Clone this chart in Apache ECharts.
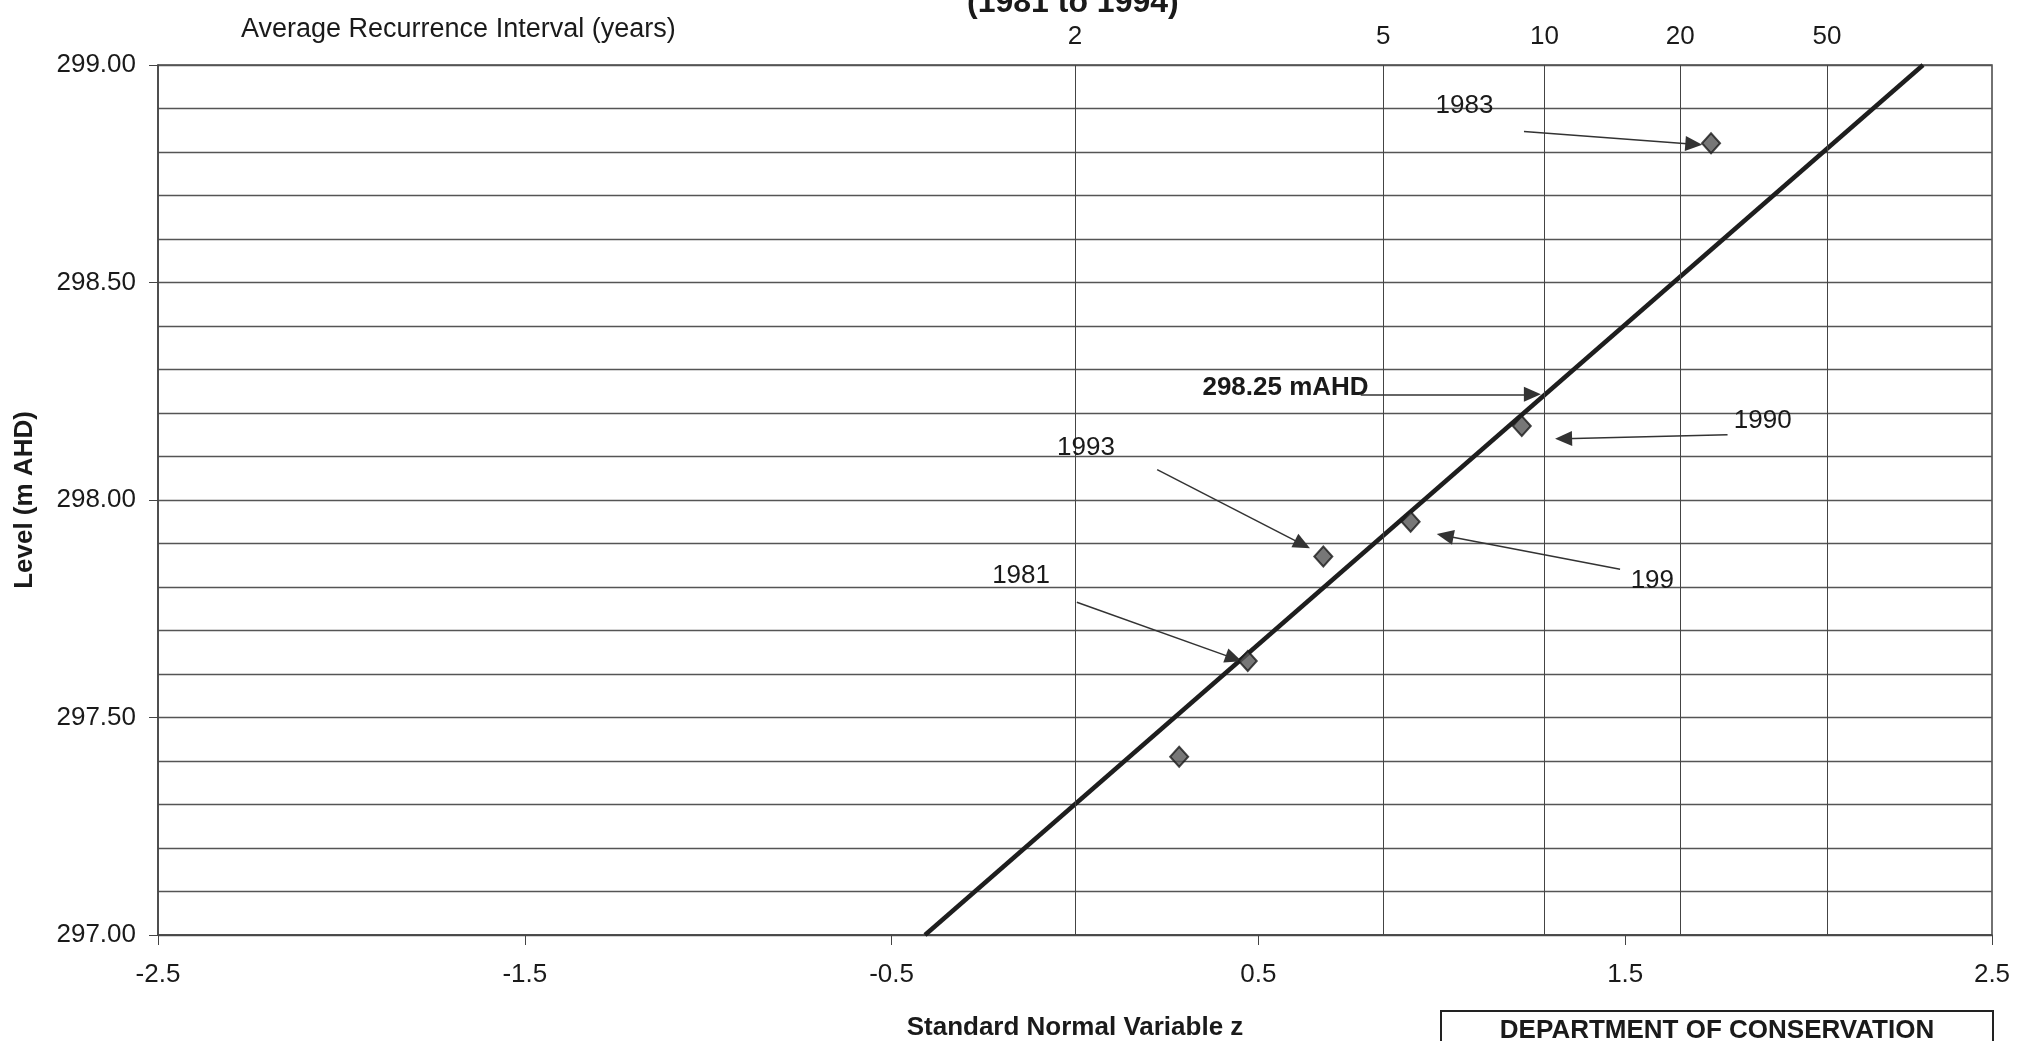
<!DOCTYPE html>
<html>
<head>
<meta charset="utf-8">
<title>Level frequency plot</title>
<script src="https://cdn.jsdelivr.net/npm/echarts@6/dist/echarts.min.js"></script>
<style>
  html, body { margin: 0; padding: 0; background: #fff; }
  #chart { width: 2032px; height: 1041px; }
</style>
</head>
<body>
<div id="chart"></div>
<script>
// bottom axis ticks (standard normal variable z)
var zTicks = [-2.5, -1.5, -0.5, 0.5, 1.5, 2.5];
// recurrence interval grid lines: label and z position
var ariLabels = ['2', '5', '10', '20', '50'];
var ariZ = [0, 0.842, 1.282, 1.645, 2.054];

// observed annual maxima (z, level)
var pointZ = [0.284, 0.471, 0.677, 0.915, 1.218, 1.734];
var pointLevel = [297.41, 297.63, 297.87, 297.95, 298.17, 298.82];

// fitted line end points
var fitZ = [-0.409, 2.312];
var fitLevel = [297.0, 299.0];

// annotations: text, text position, arrow start / end
var noteText = ['1983', '298.25 mAHD', '1990', '1993', '199', '1981'];
var noteZ = [1.062, 0.574, 1.875, 0.030, 1.574, -0.147];
var noteLevel = [298.906, 298.257, 298.183, 298.120, 297.815, 297.826];
var arrowFrom = [[1.224, 298.847], [0.779, 298.243], [1.779, 298.150], [0.224, 298.070], [1.486, 297.841], [0.005, 297.765]];
var arrowTo = [[1.687, 298.818], [1.247, 298.243], [1.332, 298.141], [0.620, 297.898], [1.009, 297.918], [0.433, 297.636]];

var chart = echarts.init(document.getElementById('chart'));

var FONT = '"Liberation Sans", Arial, sans-serif';
var INK = '#1a1a1a';

var option = {
    animation: false,
    backgroundColor: '#fff',
    textStyle: { fontFamily: FONT, color: INK },
    title: [{
        text: '(1981 to 1994)',
        left: 962,
        top: -18,
        textStyle: { fontFamily: FONT, fontSize: 32, fontWeight: 'bold', color: INK }
    }, {
        text: 'Average Recurrence Interval (years)',
        left: 236,
        top: 11,
        textStyle: { fontFamily: FONT, fontSize: 27, fontWeight: 'normal', color: INK }
    }],
    grid: {
        left: 158,
        right: 40,
        top: 65,
        bottom: 106,
        outerBoundsMode: 'none',
        containLabel: false,
        show: true,
        borderColor: '#444',
        borderWidth: 1.5,
        backgroundColor: 'transparent'
    },
    xAxis: {
        type: 'value',
        min: -2.5,
        max: 2.5,
        name: 'Standard Normal Variable z',
        nameLocation: 'middle',
        nameGap: 80,
        nameTextStyle: { fontFamily: FONT, fontSize: 26, fontWeight: 'bold', color: INK },
        axisLine: { show: true, onZero: false, lineStyle: { color: '#444', width: 1.5 } },
        axisTick: { show: true, length: 10, customValues: zTicks, lineStyle: { color: '#444' } },
        axisLabel: {
            customValues: zTicks,
            margin: 27,
            fontFamily: FONT,
            fontSize: 26,
            color: INK,
            formatter: function (v) { return String(v); }
        },
        splitLine: { show: false }
    },
    yAxis: [{
        type: 'value',
        min: 297,
        max: 299,
        interval: 0.1,
        axisLine: { show: false },
        axisTick: { show: false },
        axisLabel: { show: false },
        splitLine: { show: true, lineStyle: { color: '#555', width: 1.4 } }
    }, {
        type: 'value',
        position: 'left',
        min: 297,
        max: 299,
        interval: 0.5,
        name: 'Level (m AHD)',
        nameLocation: 'middle',
        nameGap: 120,
        nameTextStyle: { fontFamily: FONT, fontSize: 26, fontWeight: 'bold', color: INK },
        axisLine: { show: true, lineStyle: { color: '#444', width: 1.5 } },
        axisTick: { show: true, length: 9, lineStyle: { color: '#444' } },
        axisLabel: {
            margin: 22,
            fontFamily: FONT,
            fontSize: 26,
            color: INK,
            formatter: function (v) { return v.toFixed(2); }
        },
        splitLine: { show: false }
    }],
    series: [{
        // recurrence interval grid lines with their labels on top
        type: 'line',
        data: [],
        silent: true,
        markLine: {
            silent: true,
            symbol: ['none', 'none'],
            lineStyle: { color: '#444', width: 1, type: 'solid' },
            label: {
                show: true,
                position: 'end',
                distance: 15,
                fontFamily: FONT,
                fontSize: 26,
                color: INK,
                formatter: function (p) { return p.name; }
            },
            data: ariZ.map(function (z, i) { return { xAxis: z, name: ariLabels[i] }; })
        }
    }, {
        name: 'Fitted',
        type: 'line',
        data: fitZ.map(function (z, i) { return [z, fitLevel[i]]; }),
        showSymbol: false,
        lineStyle: { color: '#1e1e1e', width: 4.5 },
        z: 4
    }, {
        name: 'Observed',
        type: 'scatter',
        data: pointZ.map(function (z, i) { return [z, pointLevel[i]]; }),
        symbol: 'diamond',
        symbolSize: [18, 20],
        itemStyle: { color: '#555', borderColor: '#1a1a1a', borderWidth: 2 },
        z: 5,
        markLine: {
            silent: true,
            symbol: ['none', 'triangle'],
            symbolSize: [15, 17],
            lineStyle: { color: '#333', width: 1.5, type: 'solid' },
            itemStyle: { color: '#333' },
            label: { show: false },
            data: arrowFrom.map(function (f, i) {
                return [{ coord: f }, { coord: arrowTo[i] }];
            })
        }
    }, {
        // annotation texts placed in data coordinates
        name: 'Notes',
        type: 'custom',
        silent: true,
        data: noteText.map(function (t, i) { return [noteZ[i], noteLevel[i], i]; }),
        renderItem: function (params, api) {
            var p = api.coord([api.value(0), api.value(1)]);
            var i = api.value(2);
            return {
                type: 'text',
                x: p[0],
                y: p[1],
                style: {
                    text: noteText[i],
                    fontFamily: FONT,
                    fontSize: 26,
                    fontWeight: i === 1 ? 'bold' : 'normal',
                    fill: INK,
                    align: 'center',
                    verticalAlign: 'middle'
                }
            };
        },
        z: 6
    }],
    graphic: [{
        type: 'rect',
        shape: { x: 1441, y: 1011, width: 552, height: 45 },
        style: { fill: 'none', stroke: '#222', lineWidth: 2 }
    }, {
        type: 'text',
        x: 1717,
        y: 1031,
        style: {
            text: 'DEPARTMENT OF CONSERVATION',
            fontFamily: FONT,
            fontSize: 26,
            fontWeight: 'bold',
            fill: INK,
            align: 'center',
            verticalAlign: 'middle'
        }
    }]
};

chart.setOption(option);
</script>
</body>
</html>
